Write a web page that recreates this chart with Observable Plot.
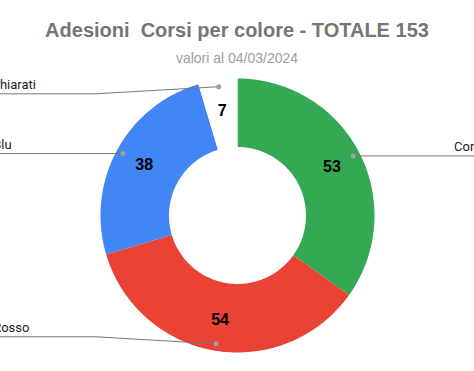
<!DOCTYPE html>
<html><head><meta charset="utf-8">
<script src="https://cdn.jsdelivr.net/npm/d3@7"></script>
<script src="https://cdn.jsdelivr.net/npm/@observablehq/plot@0.6"></script>
<style>
html,body{margin:0;padding:0;background:#fff;}
body{width:474px;height:371px;overflow:hidden;position:relative;font-family:"Liberation Sans",Arial,sans-serif;}
#title{position:absolute;top:18px;left:0;width:474px;text-align:center;font-weight:bold;font-size:20px;line-height:24px;color:#757575;white-space:pre;}
#sub{position:absolute;top:50px;left:0;width:474px;text-align:center;font-size:14px;line-height:16px;color:#9e9e9e;}
#chart{position:absolute;top:70px;left:0;}
#chart svg{overflow:visible;}
</style>
</head><body>
<div id="title">Adesioni  Corsi per colore - TOTALE 153</div>
<div id="sub">valori al 04/03/2024</div>
<div id="chart"></div>
<script>
const categories = ["Corso Verde", "Corso Rosso", "Corso Blu", "Non dichiarati"];
const values = [53, 54, 38, 7];
const colors = ["#34a853", "#ea4335", "#4285f4", "#ffffff"];

const W = 474, H = 301;
const R = 137;           // outer radius in px
const cx = 237, cy = 145; // centre in px
const inner = 0.5, labelR = 0.775, dotR = 0.95;

const total = d3.sum(values);
let acc = 0;
const slices = categories.map((c, i) => {
  const a0 = acc / total * 2 * Math.PI;
  acc += values[i];
  const a1 = acc / total * 2 * Math.PI;
  const am = (a0 + a1) / 2;
  return {
    cat: c, value: values[i], a0, a1, am,
    lx: labelR * Math.sin(am), ly: labelR * Math.cos(am),
    dx: dotR * Math.sin(am), dy: dotR * Math.cos(am),
    side: Math.sin(am) >= 0 ? "right" : "left"
  };
});

// polygon rows for ring slices
const rows = [];
for (const s of slices) {
  const n = Math.max(2, Math.ceil((s.a1 - s.a0) / (Math.PI / 180)));
  for (let k = 0; k <= n; k++) {
    const a = s.a0 + (s.a1 - s.a0) * k / n;
    rows.push({cat: s.cat, x: Math.sin(a), y: Math.cos(a)});
  }
  for (let k = n; k >= 0; k--) {
    const a = s.a0 + (s.a1 - s.a0) * k / n;
    rows.push({cat: s.cat, x: inner * Math.sin(a), y: inner * Math.cos(a)});
  }
}

const xMin = -cx / R, xMax = (W - cx) / R;
const yMin = -(H - cy) / R, yMax = cy / R;

// leader lines
const leaders = [];
const labels = [];
for (const s of slices) {
  const sign = s.side === "right" ? 1 : -1;
  const edge = sign > 0 ? xMax + 0.05 : xMin - 0.05;
  leaders.push({cat: s.cat, x: s.dx, y: s.dy});
  let ly = s.dy;
  if (Math.abs(s.dy) > 0.9) {
    ly = s.dy - Math.sign(s.dy) * 0.052;
    leaders.push({cat: s.cat, x: sign * 1.036, y: ly});
  }
  leaders.push({cat: s.cat, x: edge, y: ly});
  labels.push({cat: s.cat, side: s.side, x: sign > 0 ? (453.5 - cx) / R : (-45 - cx) / R, y: ly});
}

const chart = Plot.plot({
  width: W, height: H,
  marginTop: 0, marginRight: 0, marginBottom: 0, marginLeft: 0,
  x: {domain: [xMin, xMax], axis: null},
  y: {domain: [yMin, yMax], axis: null},
  color: {domain: categories, range: colors},
  style: {background: "transparent", overflow: "visible"},
  marks: [
    Plot.line(rows, {x: "x", y: "y", z: "cat", fill: "cat", stroke: "none", curve: "linear"}),
    Plot.line(leaders, {x: "x", y: "y", z: "cat", stroke: "#777", strokeWidth: 1}),
    Plot.dot(slices, {x: "dx", y: "dy", r: 2.5, fill: "#9e9e9e", stroke: "none"}),
    Plot.text(slices, {x: "lx", y: "ly", text: d => String(d.value), fontSize: 16, fontWeight: "bold", fill: "#000", fontFamily: "Liberation Sans, Arial, sans-serif"}),
    Plot.text(labels.filter(d => d.side === "right"), {x: "x", y: "y", text: "cat", textAnchor: "start", dy: -9, fontSize: 13, fill: "#222", fontFamily: "Roboto, Arial, sans-serif"}),
    Plot.text(labels.filter(d => d.side === "left"), {x: "x", y: "y", text: "cat", textAnchor: "start", dy: -9, fontSize: 13, fill: "#222", fontFamily: "Roboto, Arial, sans-serif"})
  ]
});
document.getElementById("chart").appendChild(chart);
</script>
</body></html>
